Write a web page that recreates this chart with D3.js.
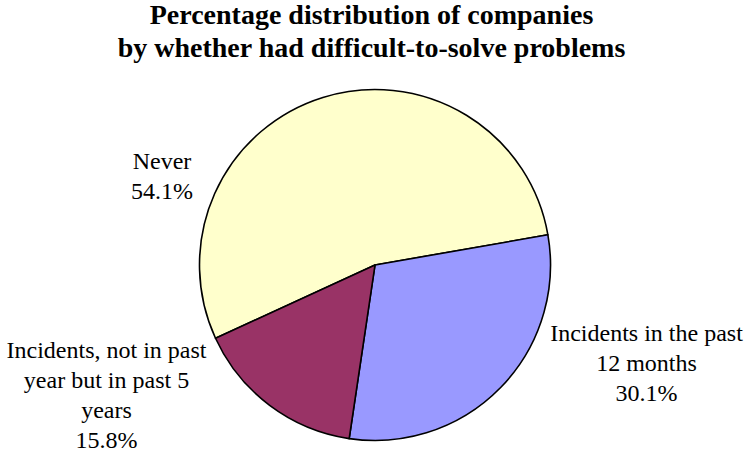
<!DOCTYPE html>
<html>
<head>
<meta charset="utf-8">
<script src="https://cdn.jsdelivr.net/npm/d3@7"></script>
<style>
  html, body { margin: 0; padding: 0; background: #fff; }
  svg { display: block; }
</style>
</head>
<body>
<svg id="chart" width="747" height="452"></svg>
<script>
// ---- data ----
const categories = ["Never", "Incidents in the past 12 months", "Incidents, not in past year but in past 5 years"];
const values = [54.1, 30.1, 15.8];
const labelLines = [
  ["Never", "54.1%"],
  ["Incidents in the past", "12 months", "30.1%"],
  ["Incidents, not in past", "year but in past 5", "years", "15.8%"]
];
const colors = ["#FFFFCC", "#9999FF", "#993366"];
const titleLines = ["Percentage distribution of companies", "by whether had difficult-to-solve problems"];

// ---- layout ----
const W = 747, H = 452;
const cx = 375, cy = 265, R = 175.5;
const startDeg = -114.66;
const FONT = "Liberation Serif";
// label centre x and first-baseline y, relative to pie centre
const labelAnchors = [[-213, -96.5], [271.5, 76], [-268.5, 92.5]];
const lineH = 30.1;

const svg = d3.select("#chart");

svg.selectAll("text.title").data(titleLines).join("text")
  .attr("class", "title")
  .attr("x", 371.5)
  .attr("y", (d, i) => 23.5 + i * 33.5)
  .attr("text-anchor", "middle")
  .attr("font-family", FONT)
  .attr("font-weight", "bold")
  .attr("font-size", 28)
  .text(d => d);

const pie = d3.pie().sort(null).value(d => d)
  .startAngle(startDeg * Math.PI / 180)
  .endAngle((startDeg + 360) * Math.PI / 180);
const arc = d3.arc().innerRadius(0).outerRadius(R);

const g = svg.append("g").attr("transform", `translate(${cx},${cy})`);
g.selectAll("path").data(pie(values)).join("path")
  .attr("d", arc)
  .attr("fill", (d, i) => colors[i])
  .attr("stroke", "#000")
  .attr("stroke-width", 1.6)
  .attr("stroke-linejoin", "round");

const lg = g.selectAll("g.lbl").data(labelLines).join("g")
  .attr("class", "lbl")
  .attr("transform", (d, i) => `translate(${labelAnchors[i][0]},${labelAnchors[i][1]})`);
lg.selectAll("text").data(d => d).join("text")
  .attr("x", 0)
  .attr("y", (d, i) => i * lineH)
  .attr("text-anchor", "middle")
  .attr("font-family", FONT)
  .attr("font-size", 24)
  .attr("fill", "#000")
  .text(d => d);
</script>
</body>
</html>
